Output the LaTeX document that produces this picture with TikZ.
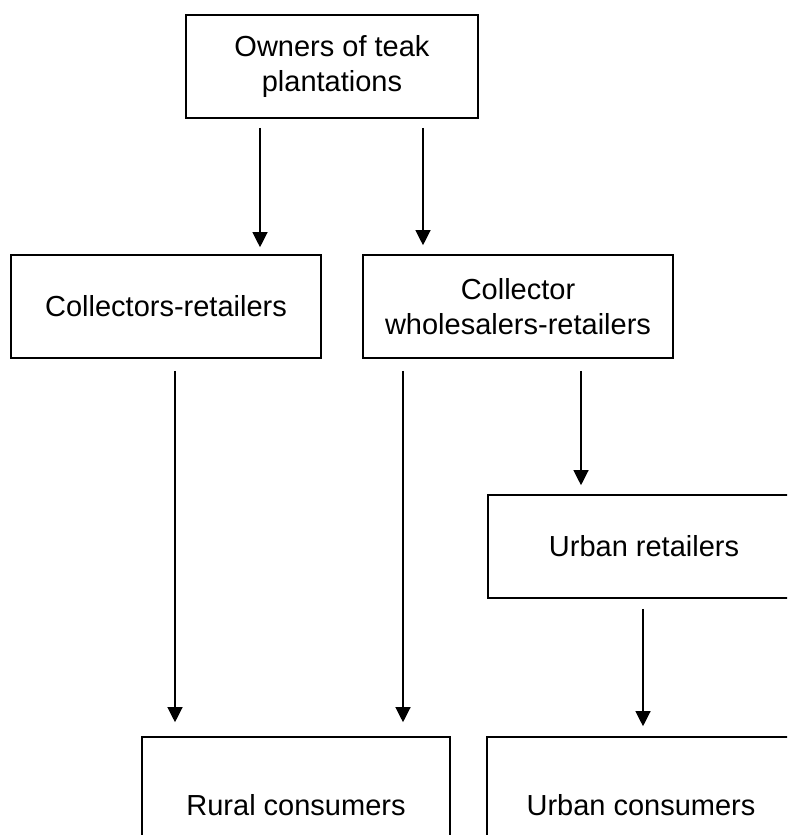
\documentclass[tikz,border=0pt]{standalone}
\usepackage{fontspec}
\setmainfont{Liberation Sans}
\usetikzlibrary{arrows.meta}
\begin{document}
\begin{tikzpicture}[x=1pt,y=-1pt,
  box/.style={draw=black,line width=1.6pt,align=center,inner sep=0pt,
    font=\fontsize{29}{35}\selectfont},
  arr/.style={line width=1.2pt,-{Triangle[length=15pt,width=15pt]}}]
\useasboundingbox (0,0) rectangle (787,835);
\clip (0,0) rectangle (787,835);
\node[box,minimum width=292pt,minimum height=103pt] (top) at (332,66.5) {Owners of teak\\plantations};
\node[box,minimum width=310pt,minimum height=103pt] (cr) at (166,306.5) {Collectors-retailers};
\node[box,minimum width=310pt,minimum height=103pt] (cwr) at (518,306.5) {Collector\\wholesalers-retailers};
\node[box,minimum width=312pt,minimum height=103pt] (ur) at (644,546.5) {Urban retailers};
\node[box,minimum width=308pt,minimum height=136pt] (rc) at (296,805) {Rural consumers};
\node[box,minimum width=308pt,minimum height=136pt] (uc) at (641,805) {Urban consumers};
\coordinate (x1) at (260,0);
\coordinate (x2) at (423,0);
\coordinate (x3) at (175,0);
\coordinate (x4) at (403,0);
\coordinate (x5) at (581,0);
\coordinate (x6) at (643,0);
\draw[arr] ([yshift=-9pt]top.south -| x1) -- ([yshift=7pt]cr.north -| x1);
\draw[arr] ([yshift=-9pt]top.south -| x2) -- ([yshift=9pt]cwr.north -| x2);
\draw[arr] ([yshift=-12pt]cr.south -| x3) -- ([yshift=14pt]rc.north -| x3);
\draw[arr] ([yshift=-12pt]cwr.south -| x4) -- ([yshift=14pt]rc.north -| x4);
\draw[arr] ([yshift=-12pt]cwr.south -| x5) -- ([yshift=9pt]ur.north -| x5);
\draw[arr] ([yshift=-10pt]ur.south -| x6) -- ([yshift=10pt]uc.north -| x6);
\end{tikzpicture}
\end{document}
